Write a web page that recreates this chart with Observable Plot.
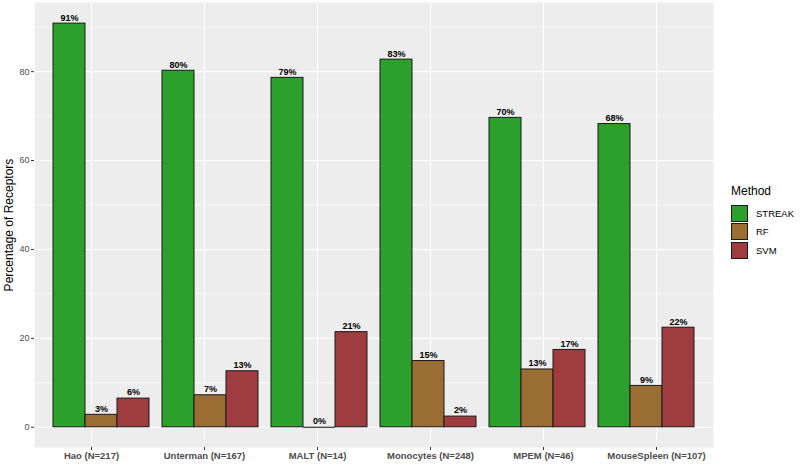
<!DOCTYPE html>
<html><head><meta charset="utf-8">
<script src="https://cdn.jsdelivr.net/npm/d3@7"></script>
<script src="https://cdn.jsdelivr.net/npm/@observablehq/plot@0.6"></script>
<style>
body{margin:0;background:#fff;font-family:"Liberation Sans",Arial,Helvetica,sans-serif}
#wrap{position:relative;width:800px;height:466px}
#wrap svg{position:absolute;left:0;top:0}
#legend{position:absolute;left:731px;top:184px;font-family:"Liberation Sans",Arial,sans-serif}
#legend .title{font-size:12px;color:#000;margin-bottom:6px}
#legend .row{display:flex;align-items:center;height:18.5px}
#legend .sw{width:17px;height:17px;box-sizing:border-box;border:1px solid #1a1a1a;margin-right:8px}
#legend .lab{font-size:9.5px;color:#000}
</style></head><body>
<div id="wrap"><div id="legend"></div></div>
<script>
const datasets = ["Hao (N=217)", "Unterman (N=167)", "MALT (N=14)", "Monocytes (N=248)", "MPEM (N=46)", "MouseSpleen (N=107)"];
const methods = ["STREAK", "RF", "SVM"];
const streakValues = [90.8, 80.2, 78.6, 82.7, 69.6, 68.2];
const rfValues = [2.8, 7.2, 0, 14.9, 13.0, 9.3];
const svmValues = [6.45, 12.6, 21.4, 2.4, 17.4, 22.4];
const methodColors = ["#2ca02c", "#9a6d33", "#9e3c40"];
const yTicks = [0, 20, 40, 60, 80];
const yMinorTicks = [10, 30, 50, 70, 90];

const series = [streakValues, rfValues, svmValues];
const rows = [];
datasets.forEach((ds, i) => methods.forEach((m, j) => rows.push({dataset: ds, method: m, value: series[j][i]})));

const font = '"Liberation Sans", Arial, Helvetica, sans-serif';
const frameOpts = {width: 800, height: 466, marginLeft: 34, marginRight: 87, marginTop: 2, marginBottom: 19};
const yScale = {domain: [-4.55, 95.55], axis: null};

// background panel, grid and axes
const base = Plot.plot({
  ...frameOpts,
  style: {fontFamily: font, background: "transparent", overflow: "visible"},
  x: {domain: datasets, paddingInner: 0.1, paddingOuter: 0.15, axis: null},
  y: yScale,
  marks: [
    Plot.frame({fill: "#ededed", stroke: "none"}),
    Plot.ruleY(yMinorTicks, {stroke: "white", strokeWidth: 0.55}),
    Plot.ruleY(yTicks, {stroke: "white", strokeWidth: 1.1}),
    Plot.ruleX(datasets, {x: d => d, stroke: "white", strokeWidth: 1.1}),
    Plot.axisY(yTicks, {tickSize: 3, tickPadding: 2, fontSize: 9, color: "#4d4d4d", stroke: "#333",
      label: "Percentage of Receptors", labelAnchor: "center", labelArrow: "none", labelOffset: 30}),
    Plot.axisX({anchor: "bottom", tickSize: 3, tickPadding: 2, fontSize: 9.5, fontWeight: "bold", color: "#4d4d4d", stroke: "#333", label: null})
  ]
});

// bars and value labels
const bars = Plot.plot({
  ...frameOpts,
  style: {fontFamily: font, background: "transparent", overflow: "visible"},
  fx: {domain: datasets, paddingInner: 0.1, paddingOuter: 0.15, label: null, axis: null},
  x: {domain: methods, padding: 0, axis: null},
  y: yScale,
  color: {domain: methods, range: methodColors},
  marks: [
    Plot.barY(rows, {fx: "dataset", x: "method", y: "value", fill: "method", stroke: "#1a1a1a", strokeWidth: 1}),
    Plot.tickY(rows.filter(d => d.value === 0), {fx: "dataset", x: "method", y: "value", stroke: "#333", strokeWidth: 1.2}),
    Plot.text(rows, {fx: "dataset", x: "method", y: "value", text: d => Math.round(d.value) + "%", dy: -6, fontWeight: "bold", fontSize: 9, fill: "black"})
  ]
});

const wrap = document.getElementById("wrap");
wrap.insertBefore(bars, wrap.firstChild);
wrap.insertBefore(base, wrap.firstChild);

base.querySelectorAll("text").forEach(t => {
  if (t.textContent === "Percentage of Receptors") { t.setAttribute("fill", "#000"); t.style.fontSize = "12px"; t.style.fontWeight = "normal"; }
});

const leg = document.getElementById("legend");
leg.innerHTML = '<div class="title">Method</div>' + methods.map((m, i) =>
  `<div class="row"><div class="sw" style="background:${methodColors[i]}"></div><span class="lab">${m}</span></div>`).join("");
</script>
</body></html>
